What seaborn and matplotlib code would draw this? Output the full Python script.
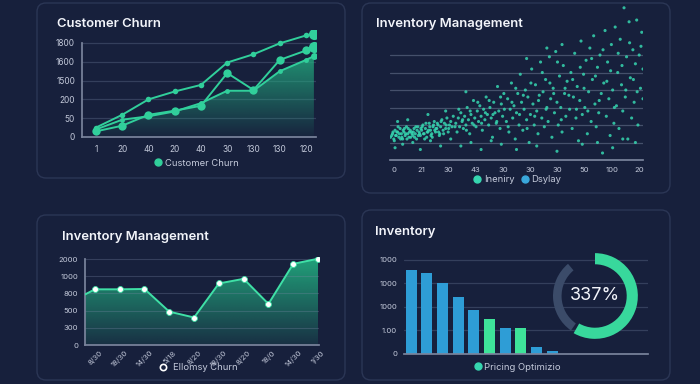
import numpy as np
import pandas as pd
import matplotlib
matplotlib.use("Agg")
import matplotlib.pyplot as plt
import matplotlib.colors as mcolors
from matplotlib.patches import FancyBboxPatch, Polygon
from matplotlib.lines import Line2D
from matplotlib.transforms import IdentityTransform
import seaborn as sns

# ---------------- data ----------------
churn_xticklabels = ["1", "20", "40", "20", "40", "30", "130", "130", "120"]
churn_yticklabels = ["0", "50", "200", "1500", "1600", "1800"]
churn_x = [0, 1, 2, 3, 4, 5, 6, 7, 8, 8.3]
churn_top = [0.5, 1.18, 2.0, 2.42, 2.77, 3.96, 4.4, 4.98, 5.4, 5.5]
churn_mid = [0.3, 0.6, 1.18, 1.4, 1.66, 3.4, 2.5, 4.1, 4.6, 4.77]
churn_low = [0.4, 0.92, 1.1, 1.36, 1.8, 2.46, 2.46, 3.5, 4.1, 4.3]

scatter_xticklabels = ["0", "21", "30", "43", "30", "30", "30", "50", "100", "20"]
scatter_x = [
    1, 1.5, 2, 2.5, 3, 3.5, 4, 4.5, 5, 5.5, 6, 6.5, 7, 7.5, 8, 8.5, 9, 9.5, 10, 10.5,
    11, 11.5, 12, 12.5, 13, 13.5, 14, 14.5, 15, 15.5, 16, 16.5, 17, 17.5, 18, 18.5, 19, 19.5, 20, 20.5,
    21, 21.5, 22, 22.5, 23, 23.5, 24, 24.5, 25, 2, 5, 9, 12, 16, 20, 24, 3, 7, 15, 22,
    0.2, 1.2, 2.2, 3.2, 4.2, 5.2, 6.2, 7.2, 8.2, 9.2, 10.2, 11.2, 12.2, 13.2, 14.2, 15.2,
    16.2, 17.2, 18.2, 19.2, 20.2, 21.2, 22.2, 23.2,
    26, 26.5, 27, 27.5, 28, 28.5, 29, 29.5, 30, 30.5, 31, 31.5, 32, 32.5, 33, 33.5, 34, 34.5, 35, 35.5,
    36, 36.5, 37, 37.5, 38, 38.5, 39, 39.5, 40, 40.5, 41, 41.5, 42, 42.5, 43, 43.5, 44, 44.5, 45,
    28, 32, 36, 40, 44, 30,
    46, 46.5, 47, 47.5, 48, 48.5, 49, 49.5, 50, 50.5, 51, 51.5, 52, 52.5, 53, 53.5, 54, 54.5, 55, 55.5,
    56, 56.5, 57, 57.5, 58, 58.5, 59, 59.5, 60, 60.5, 61, 61.5, 62, 62.5, 63, 63.5, 64, 64.5, 65, 65.5,
    66, 66.5, 67, 67.5, 68, 68.5, 69, 69.5, 70, 50, 58, 66, 54, 62, 68,
    71, 71.5, 72, 72.5, 73, 73.5, 74, 74.5, 75, 75.5, 76, 76.5, 77, 77.5, 78, 78.5, 79, 79.5, 80, 80.5,
    81, 81.5, 82, 82.5, 83, 83.5, 84, 84.5, 85, 85.5, 86, 86.5, 87, 87.5, 88, 88.5, 89, 89.5, 90, 90.5,
    91, 91.5, 92, 92.5, 93, 93.5, 94, 94.5, 95, 95.5, 96, 96.5, 97, 97.5, 98, 98.5, 99, 99.5, 100,
    100, 76, 82, 88, 92, 97,
    0.7, 1.7, 2.7, 3.7, 4.7, 5.7, 6.7, 7.7, 8.7, 9.7, 10.7, 11.7, 12.7, 13.7, 14.7, 15.7, 16.7, 17.7,
    18.7, 19.7,
    25.7, 27.2, 28.7, 30.2, 31.7, 33.2, 34.7, 36.2, 37.7, 39.2, 40.7, 42.2, 43.7, 45.2, 46.7, 48.2,
    49.7, 51.2, 52.7, 54.2, 55.7, 57.2, 58.7, 60.2, 61.7, 63.2, 64.7, 66.2, 67.7, 69.2,
    70.7, 72.2, 73.7, 75.2, 76.7, 78.2, 79.7, 81.2, 82.7, 84.2, 85.7, 87.2, 88.7, 90.2, 91.7, 93.2,
    94.7, 96.2, 97.7, 99.2,
]
scatter_y = [
    1.5, 1.2, 1.7, 1.4, 1.6, 1.3, 1.8, 1.5, 1.2, 1.6, 1.4, 1.9, 1.5, 1.3, 1.7, 1.6, 1.4, 1.8, 1.5, 1.2,
    1.9, 1.6, 1.4, 1.7, 2.0, 1.5, 1.8, 1.3, 1.6, 2.1, 1.7, 1.5, 1.9, 2.2, 1.6, 1.8, 2.0, 1.4, 1.9, 2.3,
    1.7, 2.1, 1.8, 2.4, 1.6, 2.0, 2.2, 1.9, 2.5, 0.7, 0.9, 1.0, 0.6, 1.1, 0.8, 1.2, 2.2, 2.3, 2.6, 2.8,
    1.3, 1.6, 1.4, 1.9, 1.2, 1.7, 1.5, 1.8, 1.3, 1.6, 1.9, 1.4, 1.8, 1.5, 2.1, 1.7,
    1.4, 2.0, 1.8, 1.6, 2.2, 1.5, 2.0, 1.8,
    2.1, 1.6, 2.4, 1.9, 2.7, 2.2, 1.8, 2.5, 2.0, 3.0, 2.3, 1.5, 2.6, 2.1, 3.4, 2.4, 1.9, 2.8, 2.2, 3.1,
    2.5, 1.7, 2.9, 2.3, 3.6, 2.6, 2.0, 3.0, 2.4, 1.3, 3.3, 2.7, 2.1, 4.2, 2.8, 1.8, 3.2, 2.5, 3.8,
    0.8, 1.0, 0.6, 1.1, 0.9, 3.9,
    2.2, 3.5, 1.6, 2.9, 4.4, 2.4, 3.1, 1.2, 2.7, 3.8, 2.0, 4.9, 3.3, 1.7, 2.9, 4.0, 2.3, 3.6, 1.0, 2.6,
    5.2, 3.2, 2.0, 4.3, 2.8, 1.5, 3.7, 5.6, 2.4, 3.9, 1.9, 4.6, 3.0, 2.2, 5.9, 3.5, 1.3, 4.1, 2.7, 6.2,
    3.3, 2.0, 4.8, 3.0, 1.6, 5.4, 3.8, 2.5, 4.5, 0.6, 0.8, 0.5, 5.8, 6.4, 6.6,
    2.9, 5.0, 1.8, 3.6, 6.1, 2.4, 4.2, 1.1, 3.4, 6.8, 2.6, 4.9, 3.0, 5.7, 1.5, 3.9, 6.4, 2.2, 4.6, 7.1,
    3.2, 1.9, 5.3, 2.7, 6.0, 3.8, 0.4, 4.4, 7.4, 2.5, 5.6, 3.5, 1.4, 6.6, 4.0, 2.1, 7.6, 3.1, 5.0, 1.8,
    6.9, 4.3, 2.8, 8.7, 3.6, 5.9, 1.2, 7.9, 4.7, 2.4, 6.3, 3.3, 5.5, 8.0, 2.0, 6.0, 4.1, 7.3, 3.5,
    5.2, 0.9, 1.0, 0.7, 1.2, 1.0,
    1.4, 1.1, 1.6, 1.5, 1.3, 1.8, 1.2, 1.6, 1.5, 1.3, 1.7, 1.5, 1.9, 1.2, 1.6, 1.9, 1.3, 1.7,
    2.1, 1.5,
    1.9, 2.9, 2.3, 1.7, 2.8, 2.0, 3.3, 2.1, 2.7, 3.4, 2.6, 2.2, 3.6, 2.9, 1.9, 3.3,
    4.1, 2.6, 3.7, 1.8, 4.4, 2.5, 3.4, 5.0, 2.9, 4.4, 3.8, 5.6, 2.3, 4.1,
    3.7, 4.6, 2.9, 5.3, 4.1, 2.8, 5.8, 4.8, 3.4, 6.3, 4.5, 5.1, 3.0, 6.1, 5.4, 4.0,
    6.7, 4.6, 3.9, 6.5,
]

inv_xticklabels = ["8/30", "18/30", "14/30", "5/18", "8/20", "18/30", "8/20", "18/0", "14/30", "1/30"]
inv_yticklabels = ["0", "300", "500", "800", "1000", "2000"]
inv_x = [-0.4, 0, 1, 2, 3, 4, 5, 6, 7, 8, 9]
inv_vals = [2.94, 3.24, 3.24, 3.26, 1.94, 1.6, 3.58, 3.85, 2.39, 4.72, 5.02]

bar_cats = ["b1", "b2", "b3", "b4", "b5", "b6", "b7", "b8", "b9", "b10"]
bar_vals = [3.57, 3.46, 3.01, 2.44, 1.87, 1.49, 1.12, 1.12, 0.31, 0.14]
bar_highlight = [0, 0, 0, 0, 0, 1, 0, 1, 0, 0]
bar_yticklabels = ["0", "1.00", "1000", "1000", "1000"]
donut_parts = [58.3, 1.4, 29.2, 11.1]   # green, gap, grey, gap (share of circle)
donut_label = "337%"

# ---------------- style ----------------
sns.set_theme(style="dark")
plt.rcParams['font.family'] = ['Inter', 'DejaVu Sans']

BG = '#17203c'
PANEL_EDGE = '#2b3655'
TEAL = '#31cf9b'
GRID = '#343f5c'
AXIS = '#7a849c'
TICK = '#c3c9da'
BLUE = '#2e9dd6'
GREEN = '#3ee39a'
DONUT_GREEN = '#38d89c'
DONUT_GREY = '#3b4b69'

W, H = 700, 384
fig = plt.figure(figsize=(7, 3.84), dpi=100, facecolor=BG)


def rect(x0, y0, x1, y1):
    return [x0 / W, 1 - y1 / H, (x1 - x0) / W, (y1 - y0) / H]


for (x0, y0, x1, y1) in [(37, 3, 345, 178), (362, 3, 670, 193), (37, 215, 345, 380), (362, 210, 670, 380)]:
    p = FancyBboxPatch((x0, H - y1), x1 - x0, y1 - y0,
                       boxstyle="round,pad=0,rounding_size=9",
                       transform=IdentityTransform(), fc=BG, ec=PANEL_EDGE, lw=1.0, zorder=-5)
    fig.add_artist(p)


def title(x, y, s):
    fig.text(x / W, 1 - y / H, s, ha='left', va='center', fontsize=9.4,
             color='#f2f4fa', fontweight='semibold')


title(57, 24, "Customer Churn")
title(376, 24, "Inventory Management")
title(62, 237, "Inventory Management")
title(375, 232, "Inventory")


def base_style(ax):
    ax.set_facecolor('none')
    for s in ax.spines.values():
        s.set_visible(False)
    ax.grid(False)
    ax.tick_params(colors=TICK, labelsize=6, length=0)


def gradient_fill(ax, xs, ys, color, a0, a1, z=1):
    verts = [(xs[0], 0)] + list(zip(xs, ys)) + [(xs[-1], 0)]
    poly = Polygon(verts, closed=True, fc='none', ec='none')
    ax.add_patch(poly)
    rgb = mcolors.to_rgb(color)
    img = np.zeros((200, 1, 4))
    img[:, :, :3] = rgb
    img[:, 0, 3] = np.linspace(a0, a1, 200)
    im = ax.imshow(img, aspect='auto', origin='lower',
                   extent=[xs[0], xs[-1], 0, max(ys)], zorder=z, interpolation='bilinear')
    im.set_clip_path(poly)


def legend(ax, handles, labels, cx, cy, ncol=1, tpad=0.2):
    ax.legend(handles, labels, loc='center', bbox_to_anchor=(cx / W, 1 - cy / H),
              bbox_transform=fig.transFigure, frameon=False, fontsize=6.8,
              labelcolor=TICK, handletextpad=tpad, handlelength=1.0, borderpad=0,
              ncol=ncol, columnspacing=0.6)


# ---------------- panel 1: Customer Churn ----------------
ax1 = fig.add_axes(rect(82, 30, 316, 137))
base_style(ax1)
for yv in range(1, 6):
    ax1.axhline(yv, color=GRID, lw=0.9, zorder=0)
gradient_fill(ax1, churn_x, churn_low, '#23ad80', 0.03, 0.8)
for series, ms, endms in [(churn_low, 3.5, 5), (churn_mid, 6, 8), (churn_top, 4, 8)]:
    sns.lineplot(x=churn_x, y=series, ax=ax1, color=TEAL, lw=1.4, sort=False,
                 marker='o', markersize=ms, markeredgewidth=0, zorder=3)
    ax1.plot(churn_x[-1], series[-1], 'o', color=TEAL, ms=endms, mew=0, zorder=4)
ax1.set_xlim(-0.53, 8.38)
ax1.set_ylim(0, 5.69)
ax1.set_xticks(range(9))
ax1.set_xticklabels(churn_xticklabels)
ax1.set_yticks(range(6))
ax1.set_yticklabels(churn_yticklabels)
ax1.spines['left'].set_visible(True)
ax1.spines['left'].set_bounds(0, 5)
ax1.spines['left'].set_color(AXIS)
ax1.spines['bottom'].set_visible(True)
ax1.spines['bottom'].set_color(AXIS)
ax1.tick_params(axis='x', length=2.5, direction='in', color=AXIS, pad=6)
ax1.tick_params(axis='y', pad=5)
legend(ax1, [Line2D([], [], ls='', marker='o', color=TEAL, ms=5)], ["Customer Churn"], 196, 163)

# ---------------- panel 2: scatter ----------------
ax2 = fig.add_axes(rect(390, 5, 643, 160))
base_style(ax2)
for yv in range(1, 7):
    ax2.axhline(yv, color='#45506b', lw=0.9, zorder=0)
sns.scatterplot(x=scatter_x, y=scatter_y, ax=ax2, color='#36d6b0', s=5,
                edgecolor='none', alpha=0.85, zorder=3)
ax2.set_xlim(0, 100)
ax2.set_ylim(0, 8.86)
ax2.set_yticks([])
ax2.set_xticks(np.linspace(1.6, 98.4, 10))
ax2.set_xticklabels(scatter_xticklabels)
ax2.spines['bottom'].set_visible(True)
ax2.spines['bottom'].set_color(AXIS)
ax2.tick_params(axis='x', length=2.5, direction='in', color=AXIS, pad=5, labelsize=5.5)
legend(ax2, [Line2D([], [], ls='', marker='o', color='#36d6b0', ms=5),
             Line2D([], [], ls='', marker='o', color='#3aa8dc', ms=5)],
       ["Ineniry", "Dsylay"], 517, 180, ncol=2)

# ---------------- panel 3: Inventory line ----------------
ax3 = fig.add_axes(rect(85, 257, 319, 345))
base_style(ax3)
gradient_fill(ax3, inv_x, inv_vals, '#22a97e', 0.12, 0.95)
for yv in range(1, 6):
    ax3.axhline(yv, color='#7d8aa8', lw=0.8, alpha=0.3, zorder=2)
sns.lineplot(x=inv_x, y=inv_vals, ax=ax3, color='#3fe0a6', lw=1.4, sort=False, zorder=3)
sns.scatterplot(x=inv_x[1:], y=inv_vals[1:], ax=ax3, color='white', s=18,
                edgecolor='#3fe0a6', linewidth=0.6, zorder=4)
ax3.set_xlim(-0.4, 9.04)
ax3.set_ylim(0, 5.12)
ax3.set_xticks(range(10))
ax3.set_xticklabels(inv_xticklabels, rotation=45, ha='center')
ax3.set_yticks(range(6))
ax3.set_yticklabels(inv_yticklabels)
ax3.spines['left'].set_visible(True)
ax3.spines['left'].set_bounds(0, 5)
ax3.spines['left'].set_color(AXIS)
ax3.spines['bottom'].set_visible(True)
ax3.spines['bottom'].set_color(AXIS)
ax3.tick_params(axis='x', length=2.5, direction='in', color=AXIS, pad=3, labelsize=5.5)
ax3.tick_params(axis='y', pad=5, labelsize=5.5)
legend(ax3, [Line2D([], [], ls='', marker='o', mfc=BG, mec='white', mew=1.2, ms=4.5)],
       ["Ellomsy Churn"], 198, 368, tpad=0.5)

# ---------------- panel 4: bars + donut ----------------
ax4 = fig.add_axes(rect(404, 258, 648, 354))
base_style(ax4)
for yv in range(1, 5):
    ax4.axhline(yv, color=GRID, lw=0.9, zorder=0)
bar_colors = [GREEN if h else BLUE for h in bar_highlight]
bdf = pd.DataFrame({"cat": bar_cats, "val": bar_vals})
sns.barplot(data=bdf, x="cat", y="val", hue="cat", palette=bar_colors, legend=False,
            ax=ax4, width=0.7, saturation=1, linewidth=0, edgecolor='none', zorder=2)
ax4.set_xlim(-0.45, 15.1)
ax4.set_ylim(0, 4.08)
ax4.set_xticks([])
ax4.set_xlabel("")
ax4.set_ylabel("")
ax4.set_yticks(range(5))
ax4.set_yticklabels(bar_yticklabels)
ax4.spines['bottom'].set_visible(True)
ax4.spines['bottom'].set_color(AXIS)
ax4.tick_params(axis='y', pad=5, labelsize=5.5)
legend(ax4, [Line2D([], [], ls='', marker='o', color='#36d6b0', ms=5)], ["Pricing Optimizio"], 517, 367)

ax5 = fig.add_axes(rect(550, 251, 640, 341))
wedges, _ = ax5.pie(donut_parts, colors=[DONUT_GREEN, 'none', DONUT_GREY, 'none'],
                    startangle=90, counterclock=False, radius=1.0,
                    wedgeprops=dict(width=0.26, linewidth=0))
wedges[2].set_radius(0.98)
wedges[2].set_width(0.2)
ax5.set_xlim(-1.05, 1.05)
ax5.set_ylim(-1.05, 1.05)
ax5.set_axis_off()
ax5.text(0, 0, donut_label, ha='center', va='center', fontsize=13, color='#f2f4fa')

fig.savefig("out.png", dpi=100, facecolor=BG)
